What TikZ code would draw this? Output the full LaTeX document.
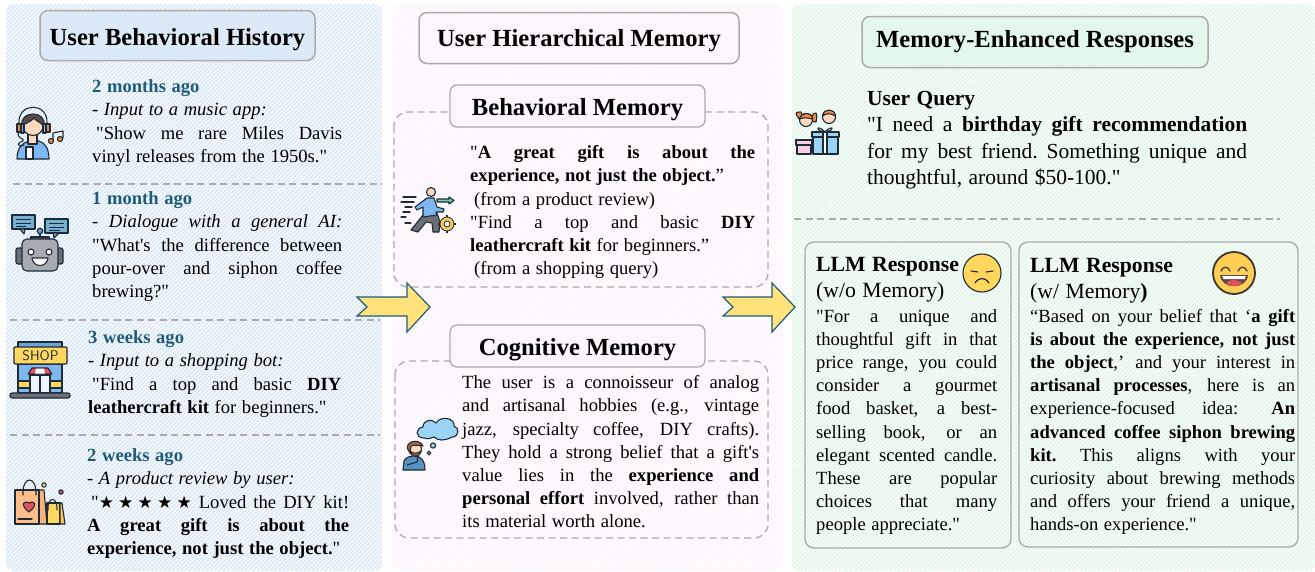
\documentclass[tikz,border=0pt]{standalone}
\usepackage{fontspec}
\setmainfont{Liberation Serif}[Ligatures=TeXOff]
\newfontfamily\symfont{DejaVu Sans}
\usetikzlibrary{patterns.meta}
\definecolor{lineg}{HTML}{ABABAB}
\definecolor{teal1}{HTML}{1F5C78}
\definecolor{pa}{HTML}{DCE9F6}
\definecolor{pb}{HTML}{FCF5FC}
\definecolor{pc}{HTML}{E3F7EA}
\definecolor{icol}{HTML}{1D2A38}
\definecolor{arrowy}{HTML}{FFE27A}
\definecolor{arrowe}{HTML}{1F5C78}
\definecolor{skin}{HTML}{FBD9BE}
\definecolor{hair}{HTML}{5A4A48}
\definecolor{brown}{HTML}{B5623A}
\definecolor{orange1}{HTML}{F08A3C}
\definecolor{blue1}{HTML}{7FB8F0}
\definecolor{blue2}{HTML}{9CD4F5}
\definecolor{gray1}{HTML}{A7ABB3}
\definecolor{gray2}{HTML}{6C6F78}
\definecolor{yel}{HTML}{FFD75E}
\definecolor{redc}{HTML}{E8505B}
\definecolor{bagor}{HTML}{FBBE8A}
\definecolor{pinkb}{HTML}{FBCFE3}
\definecolor{green1}{HTML}{6CD6A8}
\newcommand\setsp{\spaceskip=.3em plus 8em\relax\xspaceskip=\spaceskip}
\newcommand\jl[1]{\par\noindent\hbox to \hsize{\setsp\rule{0pt}{14pt}#1}\par}
\newcommand\jll[1]{\par\noindent\hbox to \hsize{\setsp\rule{0pt}{14pt}#1\hfil}\par}
\newcommand\hd[1]{\par\noindent\hbox to \hsize{\setsp\rule{0pt}{14pt}\textbf{\textcolor{teal1}{#1}}\hfil}\par}
\newcommand\jh[1]{\par\noindent\hbox to \hsize{\fontsize{21.7}{23}\selectfont\setsp\rule{0pt}{14pt}#1\hfil}\par}
\newcommand\stars{{\symfont\fontsize{17}{23}\selectfont ★\hspace{4.2pt}★\hspace{4.2pt}★\hspace{4.2pt}★\hspace{4.2pt}★}}
\tikzset{
  x=1pt,y=-1pt,
  panel/.style={rounded corners=8pt,fill=#1,draw=none},
  bl/.style={text height=#1,text depth=6pt},
  titlebox/.style={draw=lineg,line width=1.5pt,rounded corners=8pt,fill=#1,inner sep=0pt,font=\fontsize{24.6}{28}\selectfont\bfseries},
  subbox/.style={draw=lineg,line width=1.3pt,rounded corners=7pt,fill=pb,inner sep=0pt,font=\fontsize{24.6}{28}\selectfont\bfseries},
  dashbox/.style={draw=lineg,line width=1.3pt,dash pattern=on 7pt off 4.5pt,rounded corners=14pt},
  sep/.style={draw=lineg,line width=1.2pt,dash pattern=on 7pt off 4.5pt},
  respbox/.style={draw=lineg,line width=1.4pt,rounded corners=9pt},
  txt/.style={anchor=north west,inner sep=0pt,text width=#1,font=\fontsize{18.6}{23.1}\selectfont},
  txtq/.style={anchor=north west,inner sep=0pt,text width=#1,font=\fontsize{21.5}{26.3}\selectfont},
  bigarrow/.style={draw=arrowe,line width=1.2pt,fill=arrowy,line join=miter},
  ic/.style={draw=icol,line width=1.1pt,line join=round,line cap=round},
}
\begin{document}
\begin{tikzpicture}
\useasboundingbox (0,0) rectangle (1315,571);
% panels
\fill[panel=pa] (6,4) rectangle (382,571);
\fill[panel=pb] (392,4) rectangle (783,571);
\fill[panel=pc] (792,4) rectangle (1315,571);
\fill[rounded corners=8pt,pattern={Lines[angle=45,distance=3pt,line width=1pt]},pattern color=white] (6,4) rectangle (382,571);
\fill[rounded corners=8pt,pattern={Lines[angle=45,distance=3pt,line width=.8pt]},pattern color=white] (392,4) rectangle (783,571);
\fill[rounded corners=8pt,pattern={Lines[angle=45,distance=3pt,line width=1pt]},pattern color=white] (792,4) rectangle (1315,571);
% titles
\node[titlebox=pa,bl=25pt,minimum width=275pt,minimum height=50pt] (t1) at (177.5,35.5) {User Behavioral History};
\node[titlebox=pb,bl=23pt,minimum width=320pt,minimum height=51pt] (t2) at (579,38) {User Hierarchical Memory};
\node[titlebox=pc,bl=16pt,minimum width=346pt,minimum height=51pt] (t3) at (1035,42) {Memory-Enhanced Responses};
% separators left
\coordinate (s1a) at (13,184); \coordinate (s1b) at (382,184);
\coordinate (s2a) at (10,320); \coordinate (s2b) at (380,320);
\coordinate (s3a) at (10,435); \coordinate (s3b) at (380,435);
\draw[sep] (s1a) -- (s1b);
\draw[sep] (s2a) -- (s2b);
\draw[sep] (s3a) -- (s3b);
% left texts
\node[txt=250pt] (h1) at (92,69.5) {\hd{2 months ago}\jll{- \textit{Input to a music app:}}\jl{\hspace{4pt}"Show me rare Miles Davis}\jll{vinyl releases from the 1950s."}};
\node[txt=250pt] (h2) at (92,181.5) {\hd{1 month ago}\jl{- \textit{Dialogue with a general AI:}}\jl{"What's the difference between}\jl{pour-over and siphon coffee}\jll{brewing?"}};
\node[txt=253pt] (h3) at (88,320.5) {\hd{3 weeks ago}\jll{- \textit{Input to a shopping bot:}}\jl{\hspace{4pt}"Find a top and basic \textbf{DIY}}\jll{\textbf{leathercraft kit} for beginners."}};
\node[txt=262pt] (h4) at (87,438.5) {\hd{2 weeks ago}\jll{- \textit{A product review by user:}}\jl{\hspace{4pt}"\stars{} Loved the DIY kit!}\jl{\textbf{A great gift is about the}}\jll{\textbf{experience, not just the object.}"}};
% middle
\draw[dashbox] (394,112) rectangle (768,287);
\draw[dashbox] (395,361) rectangle (768,538);
\node[subbox,bl=24pt,minimum width=255pt,minimum height=42pt] (m1) at (577.5,106) {Behavioral Memory};
\node[subbox,bl=24pt,minimum width=255pt,minimum height=42pt] (m2) at (577.5,346) {Cognitive Memory};
\node[txt=285pt] (bm) at (470,135.5) {\jl{"\textbf{A great gift is about the}}\jll{\textbf{experience, not just the object.}”}\jll{\hspace{4pt}(from a product review)}\jl{"Find a top and basic \textbf{DIY}}\jll{\textbf{leathercraft kit} for beginners.”}\jll{\hspace{4pt}(from a shopping query)}};
\node[txt=297pt] (cm) at (462,365.5) {\jl{The user is a connoisseur of analog}\jl{and artisanal hobbies (e.g., vintage}\jl{jazz, specialty coffee, DIY crafts).}\jl{They hold a strong belief that a gift's}\jl{value lies in the \textbf{experience and}}\jl{\textbf{personal effort} involved, rather than}\jll{its material worth alone.}};
% right
\node[txtq=380pt] (uq) at (867,79) {\jll{\textbf{User Query}}\jl{"I need a \textbf{birthday gift recommendation}}\jl{for my best friend. Something unique and}\jll{thoughtful, around \$50-100."}};
\coordinate (s4a) at (794,219); \coordinate (s4b) at (1280,219);
\draw[sep] (s4a) -- (s4b);
\draw[respbox] (805,242) rectangle (1011,548);
\draw[respbox] (1019,242) rectangle (1298,547);
\node[txt=181pt] (r1) at (816,248.5) {\jh{\textbf{LLM Response}}\vspace{3pt}\jh{(w/o Memory)}\vspace{1.5pt}\jl{"For a unique and}\jl{thoughtful gift in that}\jl{price range, you could}\jl{consider a gourmet}\jl{food basket, a best-}\jl{selling book, or an}\jl{elegant scented candle.}\jl{These are popular}\jl{choices that many}\jll{people appreciate."}};
\node[txt=265pt] (r2) at (1030,249.5) {\jh{\textbf{LLM Response}}\vspace{3pt}\jh{(w/ Memory\textbf{)}}\vspace{.5pt}\jl{“Based on your belief that ‘\textbf{a gift}}\jl{\textbf{is about the experience, not just}}\jl{\textbf{the object},’ and your interest in}\jl{\textbf{artisanal processes}, here is an}\jl{experience-focused idea: \hspace{6pt}\textbf{An}}\jl{\textbf{advanced coffee siphon brewing}}\jl{\textbf{kit.} This aligns with your}\jl{curiosity about brewing methods}\jl{and offers your friend a unique,}\jll{hands-on experience."}};
% arrows
\draw[bigarrow] (357,297)--(407,297)--(407,283)--(430,307)--(407,332)--(407,316)--(357,316)--(367,307)--cycle;
\begin{scope}[xshift=365pt]
\draw[bigarrow] (358,297)--(407,297)--(407,283)--(430,307)--(407,332)--(407,316)--(358,316)--(368,307)--cycle;
\end{scope}
% faces
\fill[yel,draw=icol,line width=1.1pt] (982,273) circle (19pt);
\draw[icol,line width=1.1pt,line cap=round] (971,271)--(978,272) (986,272)--(993,271);
\draw[icol,line width=1.2pt,line cap=round] (975,283) .. controls (979,277) and (985,277) .. (989,283);
\fill[yel!90!orange,draw=hair!70!black,line width=1.8pt] (1234,273) circle (21pt);
\draw[hair,line width=1.5pt,line cap=round] (1221,271) .. controls (1223,266) and (1228,266) .. (1230,271) (1238,271) .. controls (1240,266) and (1245,266) .. (1247,271);
\fill[hair] (1220,275) -- (1248,275) .. controls (1247,290) and (1221,290) .. (1220,275) -- cycle;
\fill[redc] (1226,283) .. controls (1230,279) and (1238,279) .. (1242,283) .. controls (1238,287) and (1230,287) .. (1226,283) -- cycle;
\fill[white] (1222,276) -- (1246,276) -- (1244.5,279) -- (1223.5,279) -- cycle;
% icon: headset person
\fill[blue1,ic] (17,159) .. controls (17,148) and (22,143) .. (29,141) -- (39,141) .. controls (46,143) and (49,150) .. (49,159) -- cycle;
\fill[white,ic] (26,147) rectangle (33,159);
\fill[skin,ic] (28,134) rectangle (37,144);
\fill[skin,ic] (33,125) circle (10.5pt);
\fill[hair,ic] (22,126) .. controls (19,110) and (47,110) .. (44,126) .. controls (40,122) and (36,121) .. (34,118) .. controls (31,122) and (27,122) .. (22,126) -- cycle;
\draw[ic] (19,123) .. controls (18,102) and (48,102) .. (47,123);
\fill[blue1,ic] (21,124) rectangle (24,133);
\fill[orange1,ic] (17,124) rectangle (21,132);
\fill[blue1,ic] (43,124) rectangle (46,133);
\fill[orange1,ic] (46,124) rectangle (50,132);
\draw[ic] (19,132) .. controls (15,138) and (26,139) .. (23,141) .. controls (17,143) and (16,147) .. (24,145);
\draw[ic] (53,140) -- (53,133) -- (63,131) -- (63,138);
\fill[orange1,ic] (51,141) circle (2.6pt);
\fill[orange1,ic] (60,139) circle (2.6pt);
% icon: robot
\fill[blue2!70!teal1,ic] (12,215) rectangle (35,229);
\fill[blue2!70!teal1,ic] (20,229) -- (25,229) -- (24,234) -- cycle;
\draw[icol,line width=.8pt] (16,219.5)--(31,219.5) (16,223)--(31,223) (16,226)--(26,226);
\fill[blue2!70!teal1,ic] (45,219) rectangle (68,233);
\fill[blue2!70!teal1,ic] (53,233) -- (59,233) -- (54,238) -- cycle;
\draw[icol,line width=.8pt] (49,223.5)--(64,223.5) (49,227)--(64,227) (49,230)--(60,230);
\draw[ic] (40,231)--(40,238);
\fill[blue1!70!teal1,ic] (40,231) circle (2.8pt);
\fill[gray2,ic] (31,237) rectangle (49,241);
\fill[gray2,ic,rounded corners=2pt] (16,248) rectangle (23,264);
\fill[gray2,ic,rounded corners=2pt] (57,248) rectangle (63,264);
\fill[gray1,ic,rounded corners=5pt] (22,239) rectangle (58,271);
\fill[white,ic] (31,252) circle (3pt);
\fill[white,ic] (49,252) circle (3pt);
\fill[white,ic] (32,258) -- (48,258) .. controls (47,268) and (33,268) .. (32,258) -- cycle;
% icon: shop
\fill[blue1!80!teal1,ic] (18,342) rectangle (62,348);
\fill[blue1,ic] (18,364) rectangle (62,393);
\fill[yel,ic] (18,381) rectangle (30,388);
\fill[yel,ic] (50,381) rectangle (62,388);
\fill[yel,ic,rounded corners=1pt] (14,347) rectangle (67,364);
\node[inner sep=0pt,font=\fontsize{14}{14}\sffamily,text=icol] (shoptext) at (40.5,355.5) {SHOP};
\fill[white!85!blue1,ic] (30,375) rectangle (50,393);
\draw[ic] (40,375)--(40,393);
\fill[redc,ic] (32,368) -- (48,368) -- (52,374) -- (28,374) -- cycle;
\fill[white] (36,368.5) -- (44,368.5) -- (45,373.5) -- (35,373.5) -- cycle;
\fill[gray2,ic,rounded corners=2pt] (10,393) rectangle (70,398);
% icon: bags
\fill[bagor!80!orange1,ic] (39,490) -- (44,490) -- (47,524) -- (38,524) -- cycle;
\fill[bagor,ic] (15,490) rectangle (39,524);
\draw[ic] (23,495) .. controls (22,475) and (37,475) .. (36,495);
\fill[redc,ic] (29,512) .. controls (20,505) and (23,500) .. (29,503) .. controls (35,500) and (38,505) .. (29,512) -- cycle;
\draw[ic] (18,519)--(32,519);
\fill[yel,ic] (47,503) rectangle (60,524);
\fill[yel!80!orange1,ic] (60,503) -- (62,503) -- (65,524) -- (60,524) -- cycle;
\draw[ic] (48,510) .. controls (47,496) and (58,496) .. (57,510);
\fill[yel,ic] (44,485) circle (2.2pt);
\fill[redc,ic] (61,492) circle (2.2pt);
% icon: runner
\draw[ic] (403,197)--(416,197) (401,202)--(414,202) (405,207)--(412,207) (403,212)--(410,212) (401,217)--(406,217) (405,223)--(411,223);
\fill[green1,ic] (437,199)--(449,199)--(449,197)--(454,200.5)--(449,204)--(449,202)--(437,202)--cycle;
\fill[gray2,ic] (423,215)--(437,213)--(440,222)--(439,232)--(433,232)--(432,223)--(426,222)--(418,232)--(411,230)--cycle;
\fill[blue1,ic] (427,198)--(434,198)--(437,207)--(444,209)--(443,212)--(436,212)--(437,215)--(423,217)--(423,207)--(417,210)--(415,207)--cycle;
\fill[skin,ic] (431,192) circle (4.5pt);
\filldraw[yel!80!orange1,draw=icol,line width=.8pt] (447,224) circle (7pt);
\fill[white,draw=icol,line width=.8pt] (447,224) circle (3pt);
\draw[icol,line width=2pt] (447,215)--(447,217) (447,231)--(447,233) (438,224)--(440,224) (454,224)--(456,224);
% icon: thinker
\fill[blue2,ic] (424,438) .. controls (415,438) and (415,428) .. (423,427) .. controls (423,420) and (432,418) .. (436,423) .. controls (441,415) and (455,418) .. (454,426) .. controls (460,428) and (459,437) .. (452,437) .. controls (445,441) and (438,441) .. (434,437) .. controls (431,439) and (428,439) .. (424,438) -- cycle;
\fill[blue2,ic] (433,445.5) circle (2.6pt);
\fill[blue2,ic] (429,453) circle (1.9pt);
\fill[blue1!60!teal1,ic] (403,470) -- (404,461) .. controls (406,457) and (410,456) .. (415,456) .. controls (421,456) and (425,461) .. (425,470) -- cycle;
\fill[skin,ic] (415,449) circle (6.5pt);
\fill[brown,ic] (408,450) .. controls (404,441) and (420,438) .. (423,446) .. controls (418,445) and (414,445) .. (411,446) -- (410,451) -- cycle;
\fill[brown,ic] (410,451) .. controls (411,458) and (420,458) .. (421,451) .. controls (417,454) and (413,454) .. (410,451) -- cycle;
\draw[ic] (407,465) -- (417,462) -- (418,456);
% icon: gift and kids
\fill[pinkb,ic] (797,145) rectangle (811,154);
\fill[pinkb,ic] (796,140) rectangle (812,145);
\fill[blue2,ic] (813,137) rectangle (838,154);
\fill[blue2,ic] (812,132) rectangle (839,137);
\fill[white,ic] (823,132) rectangle (827,154);
\draw[ic] (825,132) .. controls (818,124) and (813,130) .. (825,132) .. controls (832,124) and (837,130) .. (825,132);
\fill[orange1,ic] (799,119) .. controls (794,112) and (796,112) .. (801,112) -- (803,116) -- cycle;
\fill[orange1,ic] (812,116) .. controls (816,110) and (818,113) .. (816,122) -- (812,121) -- cycle;
\fill[skin,ic] (806,120) circle (6.5pt);
\fill[orange1,ic] (799.5,119) .. controls (801,112) and (812,111) .. (812.5,119) .. controls (808,118) and (804,117) .. (799.5,119) -- cycle;
\fill[skin,ic] (829,117) circle (6.5pt);
\fill[orange1,ic] (822.5,116) .. controls (823,108) and (835,108) .. (835.5,116) .. controls (831,113) and (826,113) .. (822.5,116) -- cycle;
\end{tikzpicture}
\end{document}
